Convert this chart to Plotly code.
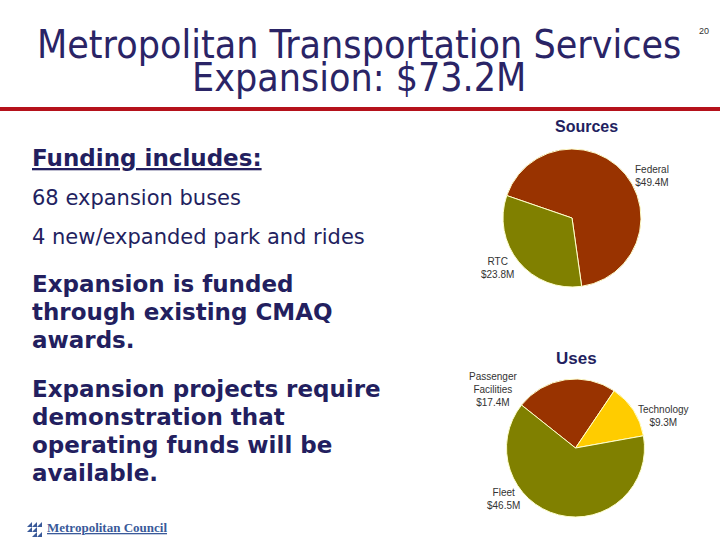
import plotly.graph_objects as go

# ---- data ----
source_labels = ["Federal", "RTC"]
source_values = [49.4, 23.8]
use_labels = ["Passenger<br>Facilities", "Technology", "Fleet"]
use_values = [17.4, 9.3, 46.5]

title_lines = ["Metropolitan Transportation Services", "Expansion: $73.2M"]
page_number = "20"

W, H = 720, 540
NAVY = "#231F5F"
DARK_RED = "#993300"
OLIVE = "#808000"
GOLD = "#FFCC00"

def px_x(x):
    return x / W

def px_y(y):
    return 1 - y / H

fig = go.Figure()

fig.add_trace(go.Pie(
    labels=source_labels, values=source_values, sort=False,
    direction="clockwise", rotation=-71,
    marker=dict(colors=[DARK_RED, OLIVE], line=dict(color="#FFFFCC", width=1)),
    textinfo="none", hoverinfo="label+value", showlegend=False,
    domain=dict(x=[px_x(503), px_x(641)], y=[px_y(287), px_y(149)]),
))
fig.add_trace(go.Pie(
    labels=use_labels, values=use_values, sort=False,
    direction="clockwise", rotation=-51.5,
    marker=dict(colors=[DARK_RED, GOLD, OLIVE], line=dict(color="#FFFFCC", width=1)),
    textinfo="none", hoverinfo="label+value", showlegend=False,
    domain=dict(x=[px_x(506.5), px_x(644.5)], y=[px_y(517), px_y(379)]),
))

annotations = []

def txt(x, y, text, size, color, family, xanchor="center", yanchor="middle", bold=False):
    if bold:
        text = "<b>" + text + "</b>"
    annotations.append(dict(
        x=px_x(x), y=px_y(y), xref="paper", yref="paper", text=text,
        showarrow=False, xanchor=xanchor, yanchor=yanchor,
        font=dict(size=size, color=color, family=family), align="center",
    ))

TITLE_FONT = "DejaVu Sans Condensed, DejaVu Sans, sans-serif"
txt(359, 44, title_lines[0], 39, "#2A2466", TITLE_FONT)
txt(359, 78, title_lines[1], 39, "#2A2466", TITLE_FONT)
txt(704, 31, page_number, 9, "#333333", "Liberation Sans, Arial, sans-serif")

BODY_FONT = "DejaVu Sans, Verdana, sans-serif"
BX = 30
txt(BX, 158, "<u>Funding includes:</u>", 23, NAVY, BODY_FONT, xanchor="left", bold=True)
txt(BX, 198, "68 expansion buses", 21, NAVY, BODY_FONT, xanchor="left")
txt(BX, 237, "4 new/expanded park and rides", 21, NAVY, BODY_FONT, xanchor="left")
for i, line in enumerate(["Expansion is funded", "through existing CMAQ", "awards."]):
    txt(BX, 284 + 28 * i, line, 23, NAVY, BODY_FONT, xanchor="left", bold=True)
for i, line in enumerate(["Expansion projects require", "demonstration that",
                          "operating funds will be", "available."]):
    txt(BX, 389 + 28 * i, line, 23, NAVY, BODY_FONT, xanchor="left", bold=True)

# pie titles
txt(586, 126, "Sources", 16, NAVY, "Liberation Sans, Arial, sans-serif", bold=True)
txt(576, 358, "Uses", 17, NAVY, "Liberation Sans, Arial, sans-serif", bold=True)

# slice labels
LBL_FONT = "Liberation Sans, Arial, sans-serif"
LBL_COLOR = "#333333"
source_label_pos = [(652, 176), (497, 268)]
for (x, y), lab, val in zip(source_label_pos, source_labels, source_values):
    txt(x, y, f"{lab}<br>${val:.1f}M", 10, LBL_COLOR, LBL_FONT)
use_label_pos = [(493, 389), (663, 416), (503, 499)]
for (x, y), lab, val in zip(use_label_pos, use_labels, use_values):
    txt(x, y, f"{lab}<br>${val:.1f}M", 10, LBL_COLOR, LBL_FONT)

# logo text
txt(45, 527, "<u>Metropolitan Council</u>", 13, "#3A5A9A",
    "Liberation Serif, DejaVu Serif, serif", xanchor="left", bold=True)

shapes = [
    dict(type="rect", xref="paper", yref="paper", x0=0, x1=1,
         y0=px_y(111), y1=px_y(107), fillcolor="#B5121B", line=dict(width=0)),
]
# logo icon: small stepped triangles
LOGO = "#3A5A9A"
tri = [
    (27, 527, 32, 522), (32, 527, 37, 522), (37, 527, 42, 522),
    (27, 532, 32, 527), (32, 532, 37, 527),
    (32, 537, 37, 532), (37, 537, 42, 532),
]
for x0, y0, x1, y1 in tri:
    path = (f"M {px_x(x0)} {px_y(y0)} L {px_x(x1)} {px_y(y0)} "
            f"L {px_x(x1)} {px_y(y1)} Z")
    shapes.append(dict(type="path", xref="paper", yref="paper", path=path,
                       fillcolor=LOGO, line=dict(width=0)))

fig.update_layout(
    width=W, height=H, margin=dict(l=0, r=0, t=0, b=0),
    paper_bgcolor="white", plot_bgcolor="white",
    annotations=annotations, shapes=shapes, showlegend=False,
)

fig.write_html("out.html", config={"displayModeBar": False},
               post_script="document.body.style.margin='0px';"
                           "document.body.style.overflow='hidden';")
